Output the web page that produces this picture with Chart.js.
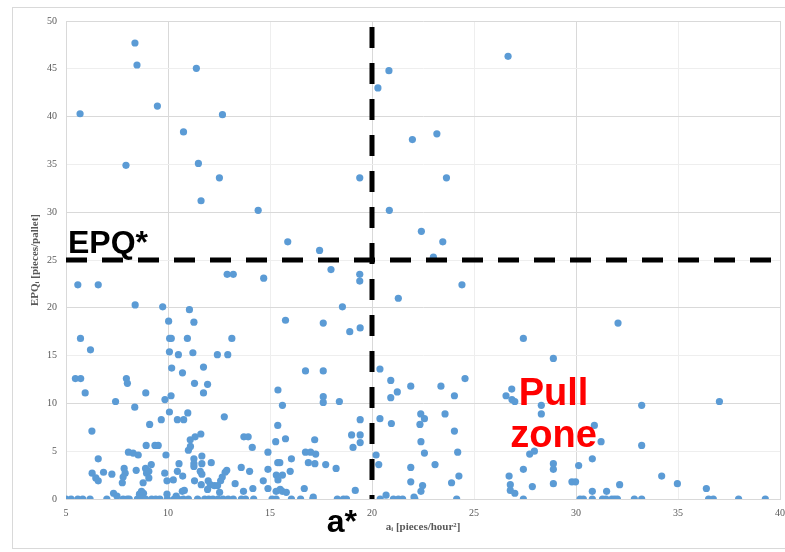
<!DOCTYPE html>
<html>
<head>
<meta charset="utf-8">
<script src="https://cdn.jsdelivr.net/npm/chart.js@4/dist/chart.umd.min.js"></script>
<style>
    html, body { margin: 0; padding: 0; background: #fff; }
    #wrap { width: 785px; height: 552px; }
</style>
</head>
<body>
<div id="wrap"><canvas id="epqChart" width="785" height="552"></canvas></div>
<script>
// a_i [pieces/hour^2] and EPQ_i [pieces/pallet], pair by pair
const aValues = [
    // above / around EPQ*
    5.69, 8.38, 8.48, 9.48, 7.94, 11.39, 10.76, 12.67, 11.49, 12.52, 11.62, 14.42, 15.87, 17.43, 17.99, 19.40,
    19.40, 19.40, 20.29, 20.83, 20.85, 12.9, 13.2, 14.69, 26.67, 21.98, 23.18, 23.65, 22.42, 23.47, 23.01,
    // left, middle band
    5.58, 6.58, 8.39, 9.74, 11.05, 10.03, 11.27, 5.71, 10.08, 10.16, 10.95, 13.13, 6.2, 10.07, 10.51, 11.22,
    12.42, 12.93, 10.18, 10.71, 11.74, 5.46, 5.72, 7.96, 8.01, 11.3, 11.94, 5.94, 8.91, 11.74, 7.43, 9.85,
    10.15, 8.37, 10.07, 10.97, 9.1, 10.46, 10.77, 9.67, 12.76, 6.27,
    // 13 - 20, middle band
    15.76, 17.61, 18.55, 18.91, 19.42, 16.74, 17.61, 15.39, 15.61, 17.61, 17.61, 18.4, 15.38, 19.42, 19.42,
    19.42, 19.0, 19.07, 17.19, 15.76, 15.28, 13.72, 13.93, 14.13,
    // low band, left of a*
    11.1, 11.0, 11.09, 11.33, 11.61, 9.9, 8.93, 9.36, 9.52, 8.06, 8.29, 8.54, 6.58, 6.28, 6.46, 6.58, 6.84,
    7.25, 7.85, 7.9, 7.8, 7.76, 8.44, 8.9, 8.95, 9.06, 9.18, 9.06, 8.78, 9.84, 9.95, 10.26, 10.46, 10.54,
    10.72, 11.27, 11.27, 11.27, 11.66, 11.66, 12.12, 11.58, 11.66, 11.3, 11.63, 11.97, 12.07, 11.94, 12.27,
    12.43, 12.53, 12.58, 12.66, 12.8, 12.88, 13.29, 13.59, 14.0, 13.7, 14.16, 14.67, 14.9, 14.9, 14.9, 15.38,
    15.48, 15.31, 15.39, 15.61, 15.3, 15.5, 15.6, 15.8, 15.99, 16.05, 16.68, 16.74, 16.99, 17.24, 16.88,
    17.2, 17.73, 18.24, 17.12, 19.18, 20.2, 20.33, 20.69, 7.33, 7.5, 8.6, 8.7, 8.8, 9.95, 10.7, 10.8, 10.4,
    // right of a*
    21.29, 24.41, 32.06, 27.42, 28.89, 20.39, 20.92, 24.56, 21.9, 23.38, 21.24, 20.92, 24.04, 26.85, 26.57,
    26.86, 27.0, 28.3, 28.3, 33.22, 37.03, 20.39, 20.95, 22.39, 22.57, 22.35, 23.58, 24.04, 22.4, 22.57,
    24.2, 30.9, 31.23, 33.22, 27.73, 27.96, 30.8, 28.89, 28.89, 30.13, 27.42, 23.09, 21.9, 21.9, 22.48,
    22.4, 23.9, 24.26, 22.06, 26.72, 26.78, 26.78, 27.0, 27.86, 28.89, 29.8, 29.98, 30.8, 31.5, 32.14,
    34.2, 34.97, 36.39
];
const epqValues = [
    40.3, 47.7, 45.4, 41.1, 34.9, 45.05, 38.4, 40.2, 35.1, 33.6, 31.2, 30.2, 26.9, 26.0, 24.0, 23.5,
    22.8, 33.6, 43.0, 44.8, 30.2, 23.5, 23.5, 23.1, 46.3, 37.6, 38.2, 33.6, 28.0, 26.9, 25.3,

    22.4, 22.4, 20.3, 20.1, 19.8, 18.6, 18.5, 16.8, 16.8, 16.8, 16.8, 16.8, 15.6, 15.4, 15.1, 15.3,
    15.1, 15.1, 13.7, 13.2, 13.8, 12.6, 12.6, 12.6, 12.1, 12.1, 12.0, 11.1, 11.1, 11.1, 10.2, 10.4,
    10.8, 9.6, 9.1, 9.0, 7.8, 8.3, 8.3, 8.3, 8.6, 7.1,

    18.7, 18.4, 20.1, 17.5, 17.9, 13.4, 13.4, 11.4, 9.8, 10.7, 10.1, 10.2, 7.7, 8.3, 6.7,
    5.9, 6.7, 5.4, 6.2, 6.3, 6.0, 6.5, 6.5, 5.4,

    5.5, 5.1, 6.2, 6.5, 6.8, 4.6, 5.6, 5.6, 5.6, 4.9, 4.8, 4.6, 4.2, 2.7, 2.2, 1.9, 2.8,
    2.6, 3.2, 2.7, 2.3, 1.7, 3.0, 3.2, 2.7, 2.9, 3.6, 2.2, 1.7, 2.7, 1.9, 2.0, 2.9, 3.7,
    2.4, 4.2, 3.7, 3.4, 4.5, 3.7, 3.8, 2.9, 2.6, 1.9, 1.5, 1.9, 1.5, 1.0, 1.4,
    1.4, 0.7, 1.9, 2.3, 2.8, 3.0, 1.6, 3.3, 2.9, 0.8, 1.1, 1.9, 3.1, 1.1, 4.9, 3.8,
    3.8, 2.5, 2.0, 2.5, 0.8, 1.0, 0.8, 0.7, 2.9, 4.2, 1.1, 4.9, 4.9, 4.7, 3.8,
    3.7, 3.6, 3.2, 0.2, 0.9, 4.6, 3.6, 0.4, 0.6, 0.3, 0.5, 0.8, 0.6, 0.5, 0.8, 0.9, 0.3,

    21.0, 22.4, 18.4, 16.8, 14.7, 13.6, 12.4, 12.6, 11.8, 11.8, 11.2, 10.6, 10.8, 11.5, 10.8,
    10.4, 10.2, 9.8, 8.9, 9.8, 10.2, 8.4, 7.9, 8.9, 8.4, 7.8, 8.9, 7.1, 6.0, 4.8,
    4.9, 7.7, 6.0, 5.6, 4.7, 5.0, 4.2, 3.7, 3.1, 3.5, 3.1, 3.6, 3.3, 1.8, 1.4,
    0.8, 1.7, 2.4, 0.2, 2.4, 1.5, 0.9, 0.6, 1.3, 1.6, 1.8, 1.8, 0.8, 0.8, 1.5,
    2.4, 1.6, 1.1
];
// items with EPQ = 0 (the row of dots on the x axis)
const zeroEpqA = [
    5.0, 5.25, 5.58, 5.82, 6.18, 7.0, 7.8, 8.0, 8.1, 8.5, 8.65, 8.8, 8.9, 9.2, 9.4, 9.6, 9.97, 10.3, 10.5,
    10.75, 11.0, 11.45, 11.8, 12.0, 12.2, 12.45, 12.7, 12.95, 13.2, 13.6, 13.8, 14.2, 15.1, 15.3, 16.05,
    16.5, 17.1, 18.3, 18.6, 18.75, 20.4, 21.05, 21.29, 21.5, 22.1, 24.15, 27.42, 30.2, 30.36, 30.8, 31.3,
    31.47, 31.76, 31.9, 32.03, 32.86, 33.22, 36.5, 36.73, 37.97, 39.28
];

// thresholds and axis ranges
const aStar = 20;
const epqStar = 25;
const aRange = [5, 40];
const epqRange = [0, 50];
const tickStep = 5;

const dotColor = '#5B9BD5';
const points = aValues.map((a, i) => ({ x: a, y: epqValues[i] }));
const zeroPoints = zeroEpqA.map(a => ({ x: a, y: 0 }));

// frame round the whole chart plus the big annotations
const annotations = {
    id: 'annotations',
    beforeDraw(chart) {
        const ctx = chart.ctx;
        ctx.save();
        ctx.fillStyle = '#fff';
        ctx.fillRect(0, 0, chart.width, chart.height);
        ctx.strokeStyle = '#d9d9d9';
        ctx.lineWidth = 1;
        ctx.strokeRect(12.5, 7.5, 800, 541);
        ctx.restore();
    },
    afterDraw(chart) {
        const ctx = chart.ctx;
        const xs = chart.scales.x, ys = chart.scales.y;
        ctx.save();
        ctx.fillStyle = '#000';
        ctx.font = 'bold 32px "Liberation Sans", Arial, sans-serif';
        ctx.textAlign = 'left';
        ctx.textBaseline = 'alphabetic';
        ctx.fillText('EPQ*', xs.getPixelForValue(aRange[0]) + 2, ys.getPixelForValue(epqStar) - 7);
        ctx.textAlign = 'right';
        ctx.fillText('a*', xs.getPixelForValue(aStar) - 15, 532);
        ctx.fillStyle = '#FF0000';
        ctx.font = 'bold 38px "Liberation Sans", Arial, sans-serif';
        ctx.textAlign = 'center';
        const cx = xs.getPixelForValue(28.9);
        ctx.fillText('Pull', cx, ys.getPixelForValue(9.8));
        ctx.fillText('zone', cx, ys.getPixelForValue(5.4));
        ctx.restore();
    }
};

const gridColor = ctx => (ctx.tick && ctx.tick.value % 10 === 0) ? '#d9d9d9' : '#eeeeee';
const tickFont = { family: '"Liberation Serif", "Times New Roman", serif', size: 10 };
const titleFont = { family: '"Liberation Serif", "Times New Roman", serif', size: 11, weight: 'bold' };

new Chart(document.getElementById('epqChart').getContext('2d'), {
    type: 'scatter',
    data: {
        datasets: [
            {
                label: 'EPQ*',
                data: [{ x: aRange[0], y: epqStar }, { x: aRange[1], y: epqStar }],
                showLine: true,
                borderColor: '#000',
                borderWidth: 5,
                borderDash: [21, 15],
                pointRadius: 0,
                order: 0
            },
            {
                label: 'a*',
                data: [{ x: aStar, y: epqRange[1] }, { x: aStar, y: epqRange[0] }],
                showLine: true,
                borderColor: '#000',
                borderWidth: 5,
                borderDash: [21, 15],
                borderDashOffset: 30,
                pointRadius: 0,
                order: 0
            },
            {
                label: 'items',
                data: points,
                backgroundColor: dotColor,
                borderColor: dotColor,
                borderWidth: 0,
                pointRadius: 3.6,
                order: 1
            },
            {
                label: 'items (EPQ = 0)',
                data: zeroPoints,
                backgroundColor: dotColor,
                borderColor: dotColor,
                borderWidth: 0,
                pointRadius: 3.6,
                order: 1
            }
        ]
    },
    options: {
        responsive: false,
        animation: false,
        layout: { padding: { left: 0, top: 21, right: 5, bottom: 0 } },
        plugins: {
            legend: { display: false },
            tooltip: { enabled: false }
        },
        scales: {
            x: {
                type: 'linear',
                min: aRange[0],
                max: aRange[1],
                afterFit: scale => {
                    scale.height = 53;
                    scale.paddingLeft = 0;
                    scale.paddingRight = 0;
                },
                ticks: { stepSize: tickStep, font: tickFont, color: '#595959', padding: 8, maxRotation: 0 },
                grid: { color: gridColor, drawTicks: false },
                border: { color: '#d9d9d9' },
                title: {
                    display: true,
                    text: 'aᵢ [pieces/hour²]',
                    font: titleFont,
                    color: '#595959',
                    padding: { top: 0, bottom: 18 }
                }
            },
            y: {
                type: 'linear',
                min: epqRange[0],
                max: epqRange[1],
                afterFit: scale => {
                    scale.width = 66;
                    scale.paddingTop = 0;
                    scale.paddingBottom = 0;
                },
                ticks: { stepSize: tickStep, font: tickFont, color: '#595959', padding: 9 },
                grid: { color: gridColor, drawTicks: false },
                border: { color: '#d9d9d9' },
                title: {
                    display: true,
                    text: 'EPQᵢ [pieces/pallet]',
                    font: titleFont,
                    color: '#595959',
                    padding: { top: 29, bottom: 0 }
                }
            }
        }
    },
    plugins: [annotations]
});
</script>
</body>
</html>
